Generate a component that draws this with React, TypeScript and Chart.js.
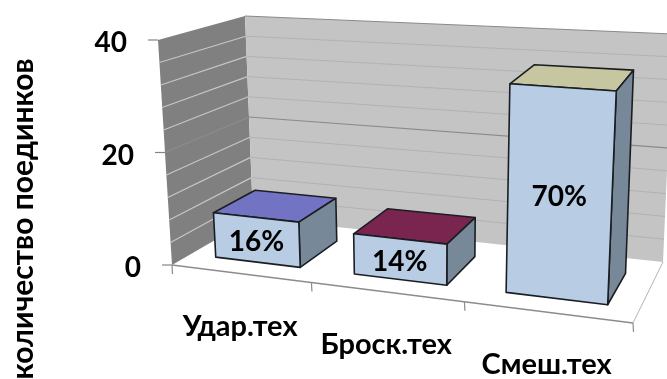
import React, { useEffect, useRef } from "react";
import { Chart, registerables } from "chart.js";

Chart.register(...registerables);

// Chart content
const categories = ["Удар.тех", "Броск.тех", "Смеш.тех"];
const fightCounts = [8, 7, 35];
const shareLabels = ["16%", "14%", "70%"];
const topColors = ["#7373c4", "#7a2450", "#c6c6a0"];
const axisTitle = "количество поединков";
const valueMax = 40;
const minorStep = 4;
const labelledStep = 20;

// Floor of the 3D box in page pixels: [front-left, front-right, back-right, back-left]
type Pt = [number, number];
const floorQuad: Pt[] = [[172, 265], [633, 323], [663, 262], [253, 218]];
// Where the full height of the value axis lands, relative to the floor, per corner
const riseAtCorners: Pt[] = [[-14, -225], [12, -251], [10, -228], [-8, -202]];

// Depth band occupied by the columns, 0 = front edge, 1 = back wall
const barDepthFront = 0.21;
const barDepthBack = 0.73;

const FONT = "Lato, Carlito, sans-serif";

function homography(q: Pt[]) {
  const [[x0, y0], [x1, y1], [x2, y2], [x3, y3]] = q;
  const dx1 = x1 - x2, dx2 = x3 - x2, dx3 = x0 - x1 + x2 - x3;
  const dy1 = y1 - y2, dy2 = y3 - y2, dy3 = y0 - y1 + y2 - y3;
  const det = dx1 * dy2 - dx2 * dy1;
  const g = (dx3 * dy2 - dx2 * dy3) / det;
  const h = (dx1 * dy3 - dx3 * dy1) / det;
  const a = x1 - x0 + g * x1, b = x3 - x0 + h * x3;
  const d = y1 - y0 + g * y1, e = y3 - y0 + h * y3;
  return (u: number, v: number): Pt => {
    const w = g * u + h * v + 1;
    return [(a * u + b * v + x0) / w, (d * u + e * v + y0) / w];
  };
}

const floorAt = homography(floorQuad);

// u: along the categories, v: depth, t: share of the value axis
function project(u: number, v: number, t: number): Pt {
  const f = floorAt(u, v);
  const s = (floorAt(u, 0)[0] - floorQuad[0][0]) / (floorQuad[1][0] - floorQuad[0][0]);
  const rise = [0, 1].map((k) => {
    const front = riseAtCorners[0][k] + (riseAtCorners[1][k] - riseAtCorners[0][k]) * s;
    const back = riseAtCorners[3][k] + (riseAtCorners[2][k] - riseAtCorners[3][k]) * s;
    return front + (back - front) * v;
  });
  return [f[0] + rise[0] * t, f[1] + rise[1] * t];
}

function poly(ctx: CanvasRenderingContext2D, pts: Pt[], fill: string, stroke?: string, lw = 1) {
  ctx.beginPath();
  pts.forEach((p, i) => (i ? ctx.lineTo(p[0], p[1]) : ctx.moveTo(p[0], p[1])));
  ctx.closePath();
  ctx.fillStyle = fill;
  ctx.fill();
  if (stroke) {
    ctx.strokeStyle = stroke;
    ctx.lineWidth = lw;
    ctx.lineJoin = "round";
    ctx.stroke();
  }
}

function seg(ctx: CanvasRenderingContext2D, a: Pt, b: Pt, color: string, lw = 1) {
  ctx.beginPath();
  ctx.moveTo(a[0], a[1]);
  ctx.lineTo(b[0], b[1]);
  ctx.strokeStyle = color;
  ctx.lineWidth = lw;
  ctx.stroke();
}

const boxPlugin = {
  id: "box3d",
  beforeDatasetsDraw(chart: any) {
    const { ctx, chartArea: area, scales } = chart;
    const yScale = scales.y;
    const xScale = scales.x;
    const uOf = (px: number) => (px - area.left) / (area.right - area.left);
    const tOf = (px: number) => (area.bottom - px) / (area.bottom - area.top);

    ctx.save();

    // Floor and walls
    poly(ctx, [project(0, 0, 0), project(1, 0, 0), project(1, 1, 0), project(0, 1, 0)], "#ffffff");
    poly(ctx, [project(0, 0, 0), project(0, 1, 0), project(0, 1, 1), project(0, 0, 1)], "#808080");
    poly(ctx, [project(0, 1, 0), project(1, 1, 0), project(1, 1, 1), project(0, 1, 1)], "#c4c4c4");

    // Gridlines and value labels
    yScale.ticks.forEach((tick: any) => {
      const t = tOf(yScale.getPixelForValue(tick.value));
      const labelled = tick.value % labelledStep === 0;
      const edge = tick.value === 0 || tick.value === valueMax;
      if (tick.value > 0) {
        if (!edge) seg(ctx, project(0, 0, t), project(0, 1, t), labelled ? "#8c8c8c" : "#c6c6c6", 1.2);
        seg(ctx, project(0, 1, t), project(1, 1, t), labelled ? "#8a8a8a" : "#b2b2b2", labelled ? 1.2 : 1);
      }
      if (labelled) {
        const p = project(0, 0, t);
        seg(ctx, [p[0] - 10, p[1]], p, "#858585", 1.2);
        ctx.fillStyle = "#000";
        ctx.font = `bold 28px ${FONT}`;
        ctx.textAlign = "right";
        ctx.textBaseline = "middle";
        ctx.fillText(String(tick.value), p[0] - 31, p[1] + 3);
      }
    });

    // Floor outline and category ticks
    seg(ctx, project(0, 0, 0), project(1, 0, 0), "#8c8c8c", 1.3);
    seg(ctx, project(1, 0, 0), project(1, 1, 0), "#b4b4b4", 1);
    for (let i = 0; i <= categories.length; i++) {
      const p = project(i / categories.length, 0, 0);
      seg(ctx, p, [p[0] + 0.5, p[1] + 9], "#8c8c8c", 1.2);
    }

    // Columns, drawn from the bar elements the controller has laid out
    const bars = chart.getDatasetMeta(0).data;
    bars.forEach((bar: any, i: number) => {
      const u0 = uOf(bar.x - bar.width / 2);
      const u1 = uOf(bar.x + bar.width / 2);
      const t = tOf(bar.y);
      const d0 = barDepthFront, d1 = barDepthBack;
      const line = "#1a1e22";
      poly(ctx, [project(u0, d0, t), project(u1, d0, t), project(u1, d1, t), project(u0, d1, t)], topColors[i], line, 1.6);
      poly(ctx, [project(u1, d0, 0), project(u1, d1, 0), project(u1, d1, t), project(u1, d0, t)], "#778899", line, 1.6);
      poly(ctx, [project(u0, d0, 0), project(u1, d0, 0), project(u1, d0, t), project(u0, d0, t)], "#b8cce4", line, 1.6);

      const mid = project((u0 + u1) / 2, d0, t * 0.49);
      ctx.fillStyle = "#000";
      ctx.font = `bold 28px ${FONT}`;
      ctx.textAlign = "center";
      ctx.textBaseline = "middle";
      ctx.fillText(shareLabels[i], mid[0], mid[1] + 2);
    });

    // Category labels below the front edge
    categories.forEach((name, i) => {
      const u = uOf(xScale.getPixelForValue(i));
      const p = project(u, 0, 0);
      ctx.fillStyle = "#000";
      ctx.font = `bold 29px ${FONT}`;
      ctx.textAlign = "center";
      ctx.textBaseline = "middle";
      ctx.fillText(name, p[0], p[1] + 53);
    });

    // Value axis title
    ctx.translate(23, 219);
    ctx.rotate(-Math.PI / 2);
    ctx.fillStyle = "#000";
    ctx.font = `bold 30px ${FONT}`;
    ctx.textAlign = "center";
    ctx.textBaseline = "middle";
    ctx.fillText(axisTitle, 0, 0);

    ctx.restore();
    return false;
  },
};

export default function App() {
  const ref = useRef<HTMLCanvasElement>(null);

  useEffect(() => {
    const chart = new Chart(ref.current!, {
      type: "bar",
      data: {
        labels: categories,
        datasets: [{ data: fightCounts, backgroundColor: topColors, barPercentage: 0.62, categoryPercentage: 1 }],
      },
      options: {
        animation: false,
        responsive: false,
        layout: { padding: 0 },
        plugins: { legend: { display: false }, tooltip: { enabled: false }, title: { display: false } },
        scales: {
          x: { display: false },
          y: { display: false, min: 0, max: valueMax, ticks: { stepSize: minorStep } },
        },
      },
      plugins: [boxPlugin],
    } as any);
    return () => chart.destroy();
  }, []);

  return (
    <div style={{ position: "fixed", left: 0, top: 0, width: 667, height: 379, background: "#fff", overflow: "hidden" }}>
      <canvas ref={ref} width={667} height={379} style={{ display: "block" }} />
    </div>
  );
}
